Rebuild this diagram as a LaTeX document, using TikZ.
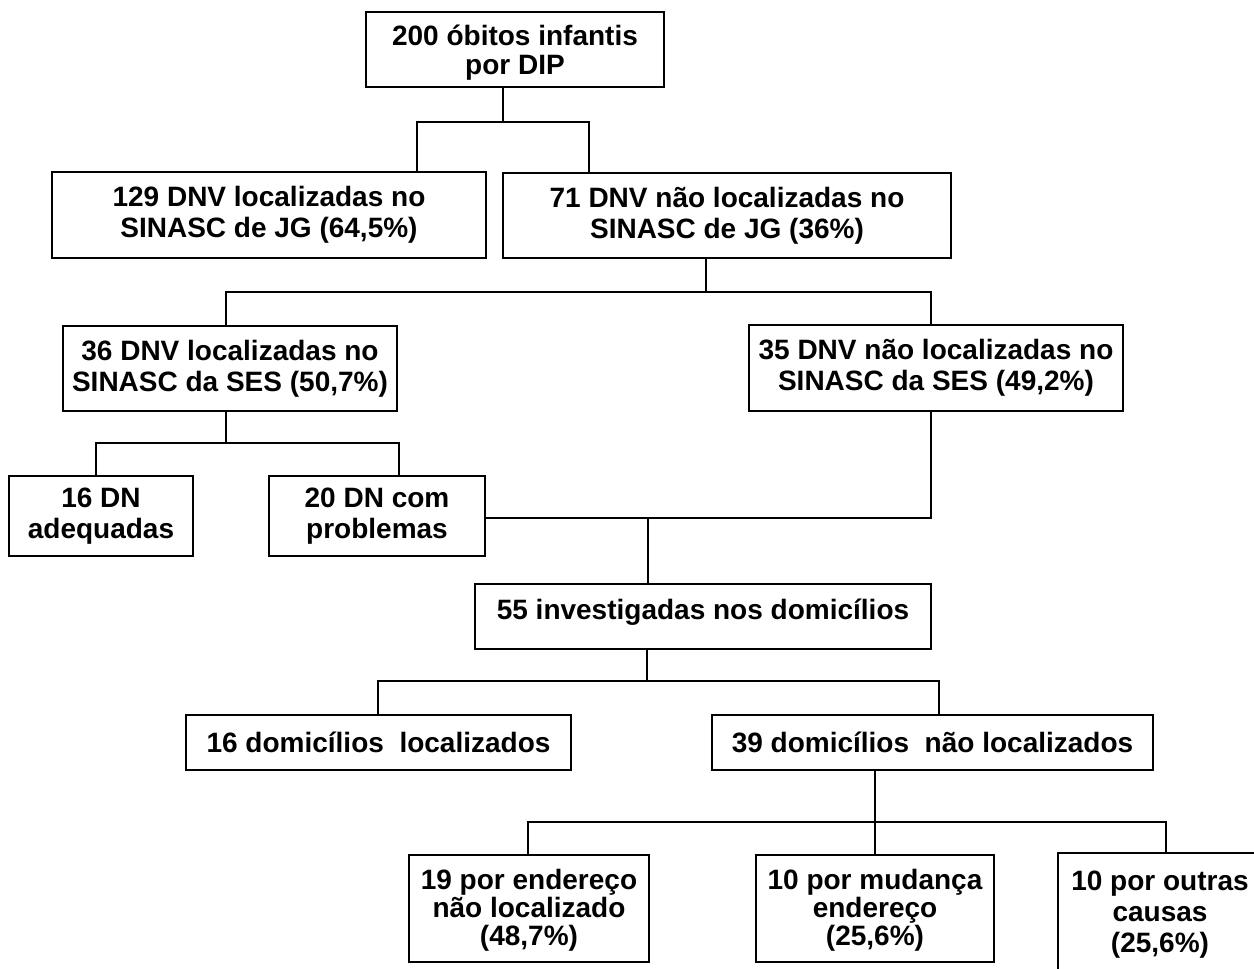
\documentclass[tikz,border=0pt]{standalone}
\usepackage{fontspec}
\setmainfont{Liberation Sans}
\usepackage{tikz}

\begin{document}
\begin{tikzpicture}[x=0.5pt,y=-0.5pt]
			\tikzstyle{caixa}=[rectangle, draw, fill=white, line width=1pt, align=center, inner sep=0pt, font=\bfseries\fontsize{14}{15.5}\selectfont]
			\tikzstyle{every node}=[caixa]
			\tikzstyle{liga}=[line width=1pt]
			\useasboundingbox (0,0) rectangle (1254,969);
			\clip (0,0) rectangle (1254,969);
			\node[minimum width=149pt, minimum height=37.5pt, text depth=0pt, font=\bfseries\fontsize{14}{14.5}\selectfont] (obitos) at (515,49.5) {200 óbitos infantis\\por DIP};
			\node[minimum width=217pt, minimum height=43pt] (loc) at (269,215) {129 DNV localizadas no\\SINASC de JG (64,5\%)};
			\node[minimum width=224pt, minimum height=42.5pt] (naoloc) at (727,215.5) {71 DNV não localizadas no\\SINASC de JG (36\%)};
			\node[minimum width=167pt, minimum height=42.5pt] (ses) at (230,368.5) {36 DNV localizadas no\\SINASC da SES (50,7\%)};
			\node[minimum width=187pt, minimum height=43pt] (naoses) at (936,368) {35 DNV não localizadas no\\SINASC da SES (49,2\%)};
			\node[minimum width=92pt, minimum height=40pt] (adeq) at (101,516) {16 DN\\adequadas};
			\node[minimum width=108pt, minimum height=40pt] (prob) at (377,516) {20 DN com\\problemas};
			\node[minimum width=228pt, minimum height=32.5pt, text depth=7.4pt] (invest) at (703,616.5) {55 investigadas nos domicílios};
			\node[minimum width=192.5pt, minimum height=27.5pt] (domloc) at (378.5,742.5) {16 domicílios\ \ localizados};
			\node[minimum width=220.5pt, minimum height=27.5pt] (domnao) at (932.5,742.5) {39 domicílios\ \ não localizados};
			\node[minimum width=120pt, minimum height=53.5pt, text depth=1pt, font=\bfseries\fontsize{14}{14}\selectfont] (ender) at (529,908.5) {19 por endereço\\não localizado\\(48,7\%)};
			\node[minimum width=119pt, minimum height=53.5pt, text depth=1pt, font=\bfseries\fontsize{14}{14}\selectfont] (mudanca) at (875,908.5) {10 por mudança\\endereço\\(25,6\%)};
			\node[minimum width=102pt, minimum height=66pt, text depth=7.7pt] (outras) at (1160,919) {10 por outras\\causas\\(25,6\%)};
			\coordinate (j1) at (503,122);
			\coordinate (b1) at (417,122);
			\coordinate (b2) at (589,122);
			\coordinate (j2) at (706,292);
			\coordinate (b3) at (226,292);
			\coordinate (b4) at (931,292);
			\coordinate (j3) at (226,443);
			\coordinate (b5) at (96,443);
			\coordinate (b6) at (399,443);
			\coordinate (j4) at (931,518);
			\coordinate (j5) at (648,518);
			\coordinate (j6) at (647,681);
			\coordinate (b7) at (378,681);
			\coordinate (b8) at (939,681);
			\coordinate (j7) at (875,822);
			\coordinate (b9) at (528,822);
			\coordinate (b10) at (1166,822);
			\draw[liga] (obitos.south -| j1) -- (j1);
			\draw[liga] (loc.north -| b1) |- (b2) -- (naoloc.north -| b2);
			\draw[liga] (naoloc.south -| j2) -- (j2);
			\draw[liga] (ses.north -| b3) |- (b4) -- (naoses.north -| b4);
			\draw[liga] (ses.south -| j3) -- (j3);
			\draw[liga] (adeq.north -| b5) |- (b6) -- (prob.north -| b6);
			\draw[liga] (naoses.south -| j4) -- (j4) -- (prob.east |- j4);
			\draw[liga] (j5) -- (invest.north -| j5);
			\draw[liga] (invest.south -| j6) -- (j6);
			\draw[liga] (domloc.north -| b7) |- (b8) -- (domnao.north -| b8);
			\draw[liga] (domnao.south -| j7) -- (j7);
			\draw[liga] (ender.north -| b9) |- (b10) -- (outras.north -| b10);
			\draw[liga] (j7) -- (mudanca.north);
		\end{tikzpicture}
\end{document}
